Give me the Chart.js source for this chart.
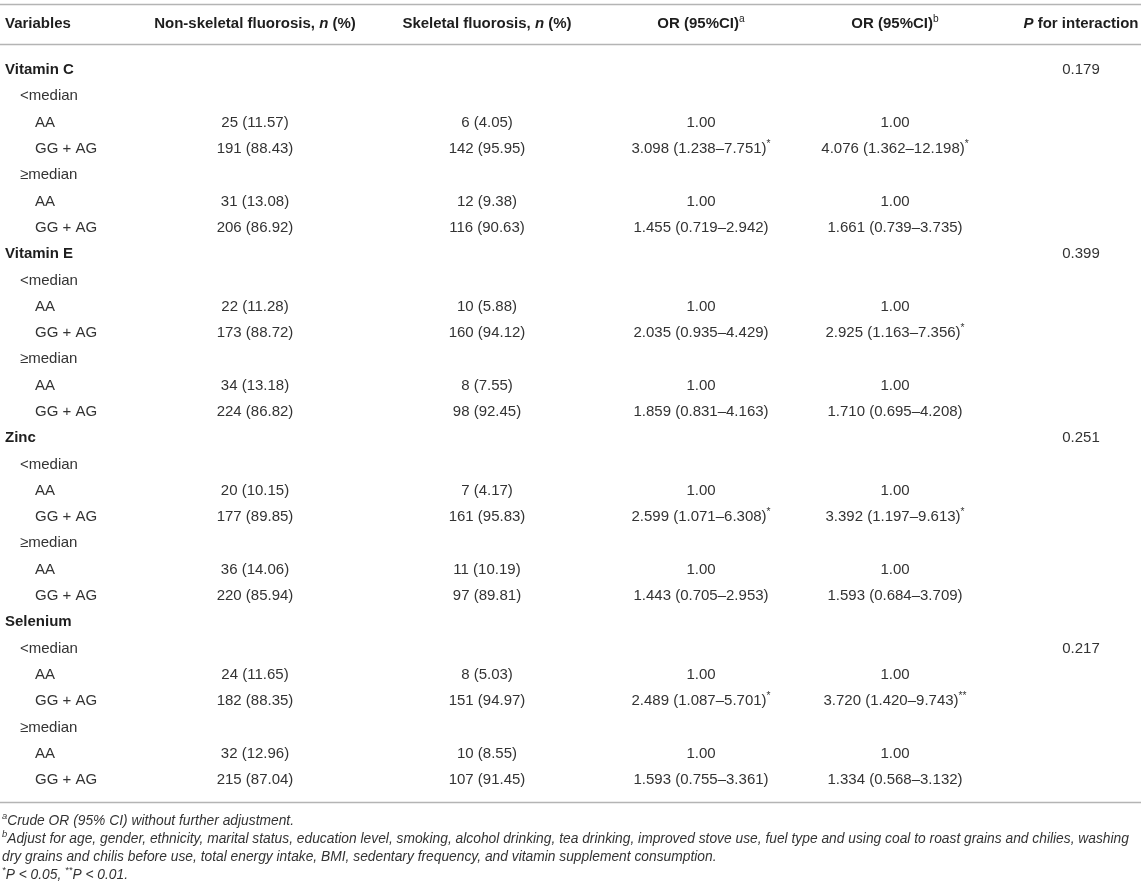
<!DOCTYPE html>
<html>
<head>
<meta charset="utf-8">
<script src="https://cdn.jsdelivr.net/npm/chart.js@4.4.0/dist/chart.umd.min.js"></script>
<style>
html, body { margin: 0; padding: 0; background: #fff; }
#caixa { width: 1145px; height: 891px; }
</style>
</head>
<body>
<div id="caixa"><canvas id="tabela" width="1145" height="891"></canvas></div>
<script>
// Dados da tabela (uma entrada por linha)
var variaveis = ['Vitamin C', '<median', 'AA', 'GG + AG', '≥median', 'AA', 'GG + AG',
                 'Vitamin E', '<median', 'AA', 'GG + AG', '≥median', 'AA', 'GG + AG',
                 'Zinc', '<median', 'AA', 'GG + AG', '≥median', 'AA', 'GG + AG',
                 'Selenium', '<median', 'AA', 'GG + AG', '≥median', 'AA', 'GG + AG'];
var niveis = [0, 1, 2, 2, 1, 2, 2, 0, 1, 2, 2, 1, 2, 2, 0, 1, 2, 2, 1, 2, 2, 0, 1, 2, 2, 1, 2, 2];

var naoEsqueletica = ['', '', '25 (11.57)', '191 (88.43)', '', '31 (13.08)', '206 (86.92)',
                      '', '', '22 (11.28)', '173 (88.72)', '', '34 (13.18)', '224 (86.82)',
                      '', '', '20 (10.15)', '177 (89.85)', '', '36 (14.06)', '220 (85.94)',
                      '', '', '24 (11.65)', '182 (88.35)', '', '32 (12.96)', '215 (87.04)'];
var esqueletica = ['', '', '6 (4.05)', '142 (95.95)', '', '12 (9.38)', '116 (90.63)',
                   '', '', '10 (5.88)', '160 (94.12)', '', '8 (7.55)', '98 (92.45)',
                   '', '', '7 (4.17)', '161 (95.83)', '', '11 (10.19)', '97 (89.81)',
                   '', '', '8 (5.03)', '151 (94.97)', '', '10 (8.55)', '107 (91.45)'];
var orBruto = ['', '', '1.00', '3.098 (1.238–7.751)^*', '', '1.00', '1.455 (0.719–2.942)',
               '', '', '1.00', '2.035 (0.935–4.429)', '', '1.00', '1.859 (0.831–4.163)',
               '', '', '1.00', '2.599 (1.071–6.308)^*', '', '1.00', '1.443 (0.705–2.953)',
               '', '', '1.00', '2.489 (1.087–5.701)^*', '', '1.00', '1.593 (0.755–3.361)'];
var orAjustado = ['', '', '1.00', '4.076 (1.362–12.198)^*', '', '1.00', '1.661 (0.739–3.735)',
                  '', '', '1.00', '2.925 (1.163–7.356)^*', '', '1.00', '1.710 (0.695–4.208)',
                  '', '', '1.00', '3.392 (1.197–9.613)^*', '', '1.00', '1.593 (0.684–3.709)',
                  '', '', '1.00', '3.720 (1.420–9.743)^**', '', '1.00', '1.334 (0.568–3.132)'];
var pInteracao = ['0.179', '', '', '', '', '', '',
                  '0.399', '', '', '', '', '', '',
                  '0.251', '', '', '', '', '', '',
                  '', '0.217', '', '', '', '', ''];

var cabecalhos = ['Variables', 'Non-skeletal fluorosis, _n_ (%)', 'Skeletal fluorosis, _n_ (%)',
                  'OR (95%CI)^a', 'OR (95%CI)^b', '_P_ for interaction'];
var notas = ['^aCrude OR (95% CI) without further adjustment.',
             '^bAdjust for age, gender, ethnicity, marital status, education level, smoking, alcohol drinking, tea drinking, improved stove use, fuel type and using coal to roast grains and chilies, washing',
             'dry grains and chilis before use, total energy intake, BMI, sedentary frequency, and vitamin supplement consumption.',
             '^*P < 0.05, ^**P < 0.01.'];

// Layout (posições das colunas e linhas, em unidades das escalas)
var colunasX = [5, 255, 487, 701, 895, 1081];
var recuo = 15;
var fimLinha = 1141;
var yCabecalho = -1.75;
var yLinhas = [-2.51, -0.99, 27.84];
var yNotas = [28.56, 29.24, 29.93, 30.61];
var FONTE = '"Liberation Sans", Arial, Helvetica, sans-serif';

function fonte(tam, negrito, italico) {
    return (italico ? 'italic ' : '') + (negrito ? 'bold ' : '') + tam + 'px ' + FONTE;
}

// divide o texto em partes: _x_ itálico, ^x sobrescrito
function partes(texto) {
    var out = [];
    var re = /(_[^_]+_|\^[a-z*]+)/g, ult = 0, m;
    while ((m = re.exec(texto)) !== null) {
        if (m.index > ult) out.push({ t: texto.slice(ult, m.index) });
        if (m[0][0] === '_') out.push({ t: m[0].slice(1, -1), it: true });
        else out.push({ t: m[0].slice(1), sup: true });
        ult = re.lastIndex;
    }
    if (ult < texto.length) out.push({ t: texto.slice(ult) });
    return out;
}

function desenhaTexto(ctx, texto, x, y, alin, estilo) {
    if (!texto) return;
    var segs = partes(texto);
    var tam = estilo.tam;
    var larg = 0;
    segs.forEach(function (s) {
        s.tam = s.sup ? tam * 0.68 : tam;
        ctx.font = fonte(s.tam, estilo.negrito && !s.sup, estilo.italico || s.it);
        s.w = ctx.measureText(s.t).width;
        larg += s.w;
    });
    var px = alin === 'center' ? x - larg / 2 : x;
    ctx.textBaseline = 'middle';
    ctx.textAlign = 'left';
    segs.forEach(function (s) {
        ctx.font = fonte(s.tam, estilo.negrito && !s.sup, estilo.italico || s.it);
        ctx.fillStyle = estilo.cor;
        ctx.fillText(s.t, px, s.sup ? y - tam * 0.33 : y);
        px += s.w;
    });
}

var tabelaPlugin = {
    id: 'tabelaTexto',
    afterDatasetsDraw: function (chart) {
        var ctx = chart.ctx;
        var xs = chart.scales.x, ys = chart.scales.y;
        ctx.save();

        // linhas horizontais
        ctx.strokeStyle = '#b4b4b4';
        ctx.lineWidth = 1.6;
        yLinhas.forEach(function (v) {
            var py = Math.round(ys.getPixelForValue(v)) + 0.5;
            ctx.beginPath();
            ctx.moveTo(xs.getPixelForValue(0), py);
            ctx.lineTo(xs.getPixelForValue(fimLinha), py);
            ctx.stroke();
        });

        // cabeçalho
        var pyCab = ys.getPixelForValue(yCabecalho);
        cabecalhos.forEach(function (c, i) {
            desenhaTexto(ctx, c, xs.getPixelForValue(colunasX[i]), pyCab, i === 0 ? 'left' : 'center',
                { tam: 15, negrito: true, cor: '#1e1e1e' });
        });

        // células, a partir dos pontos de cada dataset
        chart.data.datasets.forEach(function (ds, i) {
            var meta = chart.getDatasetMeta(i);
            meta.data.forEach(function (pt, j) {
                var negrito = i === 0 && niveis[j] === 0;
                desenhaTexto(ctx, ds.textos[j], pt.x, pt.y, ds.alinhamento,
                    { tam: 15, negrito: negrito, cor: negrito ? '#1e1e1e' : '#333' });
            });
        });

        // notas de rodapé
        notas.forEach(function (n, i) {
            desenhaTexto(ctx, n, xs.getPixelForValue(2), ys.getPixelForValue(yNotas[i]), 'left',
                { tam: 13.8, italico: true, cor: '#333' });
        });
        ctx.restore();
    }
};

function serie(textos, col, alinhamento) {
    return {
        label: cabecalhos[col],
        textos: textos,
        alinhamento: alinhamento,
        data: textos.map(function (t, j) {
            var x = colunasX[col] + (col === 0 ? niveis[j] * recuo : 0);
            return { x: x, y: j };
        }),
        pointRadius: 0,
        pointHoverRadius: 0
    };
}

var ctx = document.getElementById('tabela').getContext('2d');
var tabela = new Chart(ctx, {
    type: 'scatter',
    data: {
        datasets: [
            serie(variaveis, 0, 'left'),
            serie(naoEsqueletica, 1, 'center'),
            serie(esqueletica, 2, 'center'),
            serie(orBruto, 3, 'center'),
            serie(orAjustado, 4, 'center'),
            serie(pInteracao, 5, 'center')
        ]
    },
    options: {
        responsive: false,
        animation: false,
        layout: { padding: 0 },
        plugins: { legend: { display: false }, tooltip: { enabled: false } },
        scales: {
            x: { type: 'linear', display: false, min: 0, max: 1145 },
            y: { type: 'linear', display: false, reverse: true, min: -2.662, max: 31.221 }
        }
    },
    plugins: [tabelaPlugin]
});
</script>
</body>
</html>
